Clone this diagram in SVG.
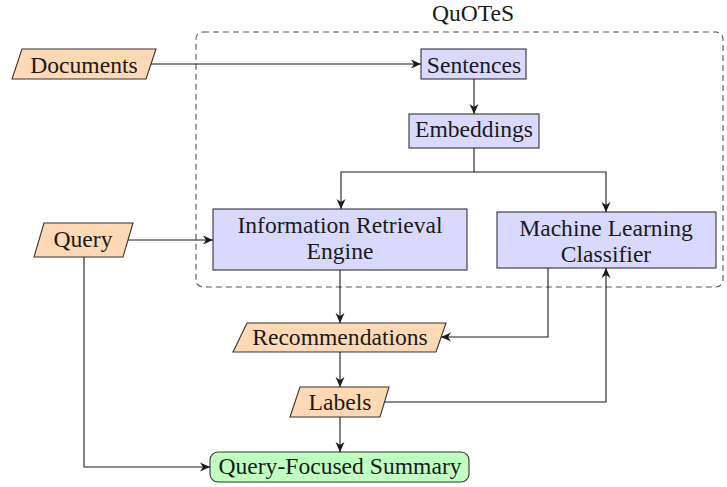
<svg xmlns="http://www.w3.org/2000/svg" width="727" height="487" viewBox="0 0 727 487">
<style>
text{font-family:'Liberation Serif','DejaVu Serif',serif;font-size:23.6px;fill:#1a1a1a;text-anchor:middle}
.io{fill:#ffd9b3;stroke:#333;stroke-width:1.1}
.proc{fill:#d9d9ff;stroke:#333;stroke-width:1.1}
.out{fill:#bfffbf;stroke:#333;stroke-width:1.1}
.c{fill:none;stroke:#1a1a1a;stroke-width:1.1;marker-end:url(#ah)}
.grp{fill:none;stroke:#555;stroke-width:1.1;stroke-dasharray:6 4}
</style>
<defs>
<marker id="ah" markerWidth="12" markerHeight="10" refX="10" refY="5" orient="auto" markerUnits="userSpaceOnUse">
<path d="M0,0.5 L10,5 L0,9.5 L3,5 Z" fill="#1a1a1a"/>
</marker>
</defs>
<g font-family="Liberation Serif, DejaVu Serif, serif">
<g id="quotes">
<rect class="grp" x="196" y="32" width="527" height="255" rx="7"/>
<text x="473" y="21">QuOTeS</text>
</g>
<g id="documents"><polygon class="io" points="22,49 156,49 146,79 12,79"/><text x="84" y="73">Documents</text></g>
<g id="sentences"><rect class="proc" x="421" y="49" width="105" height="30"/><text x="474" y="73">Sentences</text></g>
<g id="embeddings"><rect class="proc" x="409" y="114" width="130" height="34"/><text x="474" y="137">Embeddings</text></g>
<g id="ir"><rect class="proc" x="213" y="209" width="254" height="61"/><text x="340" y="233">Information Retrieval</text><text x="340" y="259">Engine</text></g>
<g id="ml"><rect class="proc" x="497" y="212" width="219" height="56"/><text x="606" y="236">Machine Learning</text><text x="606" y="262">Classifier</text></g>
<g id="query"><polygon class="io" points="44,223 133,223 123,257 34,257"/><text x="83" y="247">Query</text></g>
<g id="recommendations"><polygon class="io" points="247,323 446,323 436,352 233,352"/><text x="340" y="345">Recommendations</text></g>
<g id="labels"><polygon class="io" points="300,387 389,387 380,417 290,417"/><text x="340" y="410">Labels</text></g>
<g id="summary"><rect class="out" x="210" y="452" width="259" height="30" rx="8"/><text x="340" y="474">Query-Focused Summary</text></g>
</g>
<g id="connectors">
<path class="c" d="M151,64 H421"/>
<path class="c" d="M474,79 V114"/>
<path class="c" d="M474,148 V172 H341 V209"/>
<path class="c" d="M474,172 H606 V212"/>
<path class="c" d="M128,240 H213"/>
<path class="c" d="M340,270 V323"/>
<path class="c" d="M548,268 V337 H441"/>
<path class="c" d="M340,352 V387"/>
<path class="c" d="M385,402 H606 V268"/>
<path class="c" d="M340,417 V452"/>
<path class="c" d="M84,257 V467 H210"/>
</g>
</svg>
